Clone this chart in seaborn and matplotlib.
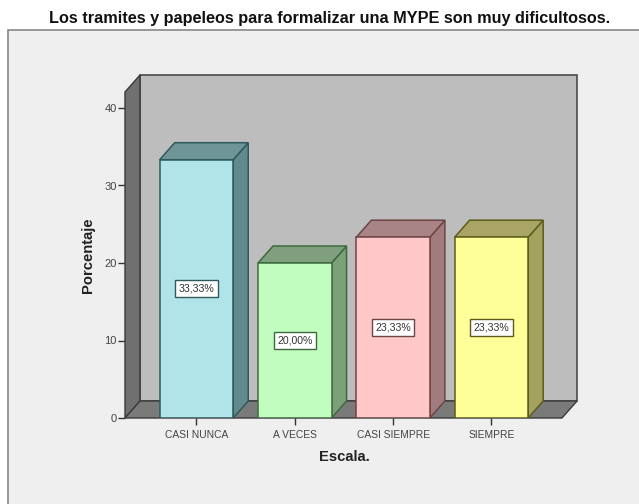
import matplotlib
matplotlib.use("Agg")
import matplotlib.pyplot as plt
import pandas as pd
import seaborn as sns
from matplotlib.patches import Rectangle

categorias = ["CASI NUNCA", "A VECES", "CASI SIEMPRE", "SIEMPRE"]
porcentajes = [33.33, 20.00, 23.33, 23.33]
etiquetas = ["33,33%", "20,00%", "23,33%", "23,33%"]
yticks = [0, 10, 20, 30, 40]
titulo = "Los tramites y papeleos para formalizar una MYPE son muy dificultosos."
frente = ["#B0E4E8", "#C2FDC0", "#FFC8C8", "#FFFF99"]
lado = ["#62898C", "#7BA07A", "#A07C7E", "#A3A35F"]
techo = ["#6F9597", "#7F9F7E", "#A98486", "#A9A565"]
borde = ["#2F5A5C", "#3C6A3C", "#6E4444", "#5C5C1C"]

W, H = 639, 504
sns.set_theme(style="white")
plt.rcParams["font.family"] = ["Liberation Sans", "DejaVu Sans"]
fig = plt.figure(figsize=(W / 100, H / 100), dpi=100, facecolor="white")

# outer panel: open to the right and bottom edges of the picture
fig.add_artist(Rectangle((8 / W, -0.02), 1.02 - 8 / W, 1.02 - 30 / H, transform=fig.transFigure,
                         facecolor="#EFEFEF", edgecolor="#888888", linewidth=1.2, zorder=-1))

L, R, T, B = 125, 562, 92, 418
ax = fig.add_axes([L / W, 1 - B / H, (R - L) / W, (B - T) / H])
ax.patch.set_alpha(0)
df = pd.DataFrame({"Escala": categorias, "Porcentaje": porcentajes})
sns.barplot(data=df, x="Escala", y="Porcentaje", hue="Escala", palette=frente, legend=False,
            width=0.748, saturation=1, ax=ax, zorder=5)
ax.set_xlim(-0.727, 3.718)
ax.set_ylim(0, (B - T) / 7.75)
ax.set_yticks(yticks)

dx = 15 * (ax.get_xlim()[1] - ax.get_xlim()[0]) / (R - L)
dy = 17 * ax.get_ylim()[1] / (B - T)
x0, x1 = ax.get_xlim()
y1 = ax.get_ylim()[1]
ax.fill([x0 + dx, x1 + dx, x1 + dx, x0 + dx], [dy, dy, y1 + dy, y1 + dy], fc="#BDBDBD", ec="#4A4A4A",
        lw=1.2, clip_on=False, zorder=1)
ax.fill([x0, x0 + dx, x0 + dx, x0], [0, dy, y1 + dy, y1], fc="#707070", ec="#3A3A3A",
        lw=1, clip_on=False, zorder=2)
ax.fill([x0, x0 + dx, x1 + dx, x1], [0, dy, dy, 0], fc="#7A7A7A", ec="#3A3A3A",
        lw=1, clip_on=False, zorder=2)

for i, bar in enumerate(ax.patches[:len(categorias)]):
    a, w, v = bar.get_x(), bar.get_width(), bar.get_height()
    bar.set_edgecolor(borde[i])
    bar.set_linewidth(1.1)
    ax.fill([a + w, a + w + dx, a + w + dx, a + w], [0, dy, v + dy, v], fc=lado[i], ec=borde[i],
            lw=1.1, clip_on=False, zorder=4)
    ax.fill([a, a + dx, a + w + dx, a + w], [v, v + dy, v + dy, v], fc=techo[i], ec=borde[i],
            lw=1.1, clip_on=False, zorder=4)
    ax.text(a + w / 2, v / 2, etiquetas[i], ha="center", va="center", fontsize=7.6, color="#333333",
            zorder=8, bbox=dict(boxstyle="square,pad=0.32", fc="white", ec=borde[i], lw=1.0))

sns.despine(ax=ax, left=True, bottom=True)
ax.tick_params(axis="both", length=5, width=1, color="#333333", labelcolor="#444444",
               pad=3, bottom=True, left=True)
ax.tick_params(axis="x", labelsize=7.4, pad=4)
ax.tick_params(axis="y", labelsize=8.0, pad=1)
ax.set_xlabel("Escala.", fontsize=10.6, fontweight="bold", color="#222222", va="center")
ax.set_ylabel("Porcentaje", fontsize=10.6, fontweight="bold", color="#222222", va="center")
ax.xaxis.set_label_coords((344 - L) / (R - L), (B - 457) / (B - T))
ax.yaxis.set_label_coords((88 - L) / (R - L), (B - 255) / (B - T))
fig.text(329.5 / W, 1 - 19 / H, titulo, ha="center", va="center", fontsize=11.7,
         fontweight="bold", color="#111111")
fig.savefig("out.png", dpi=100)
